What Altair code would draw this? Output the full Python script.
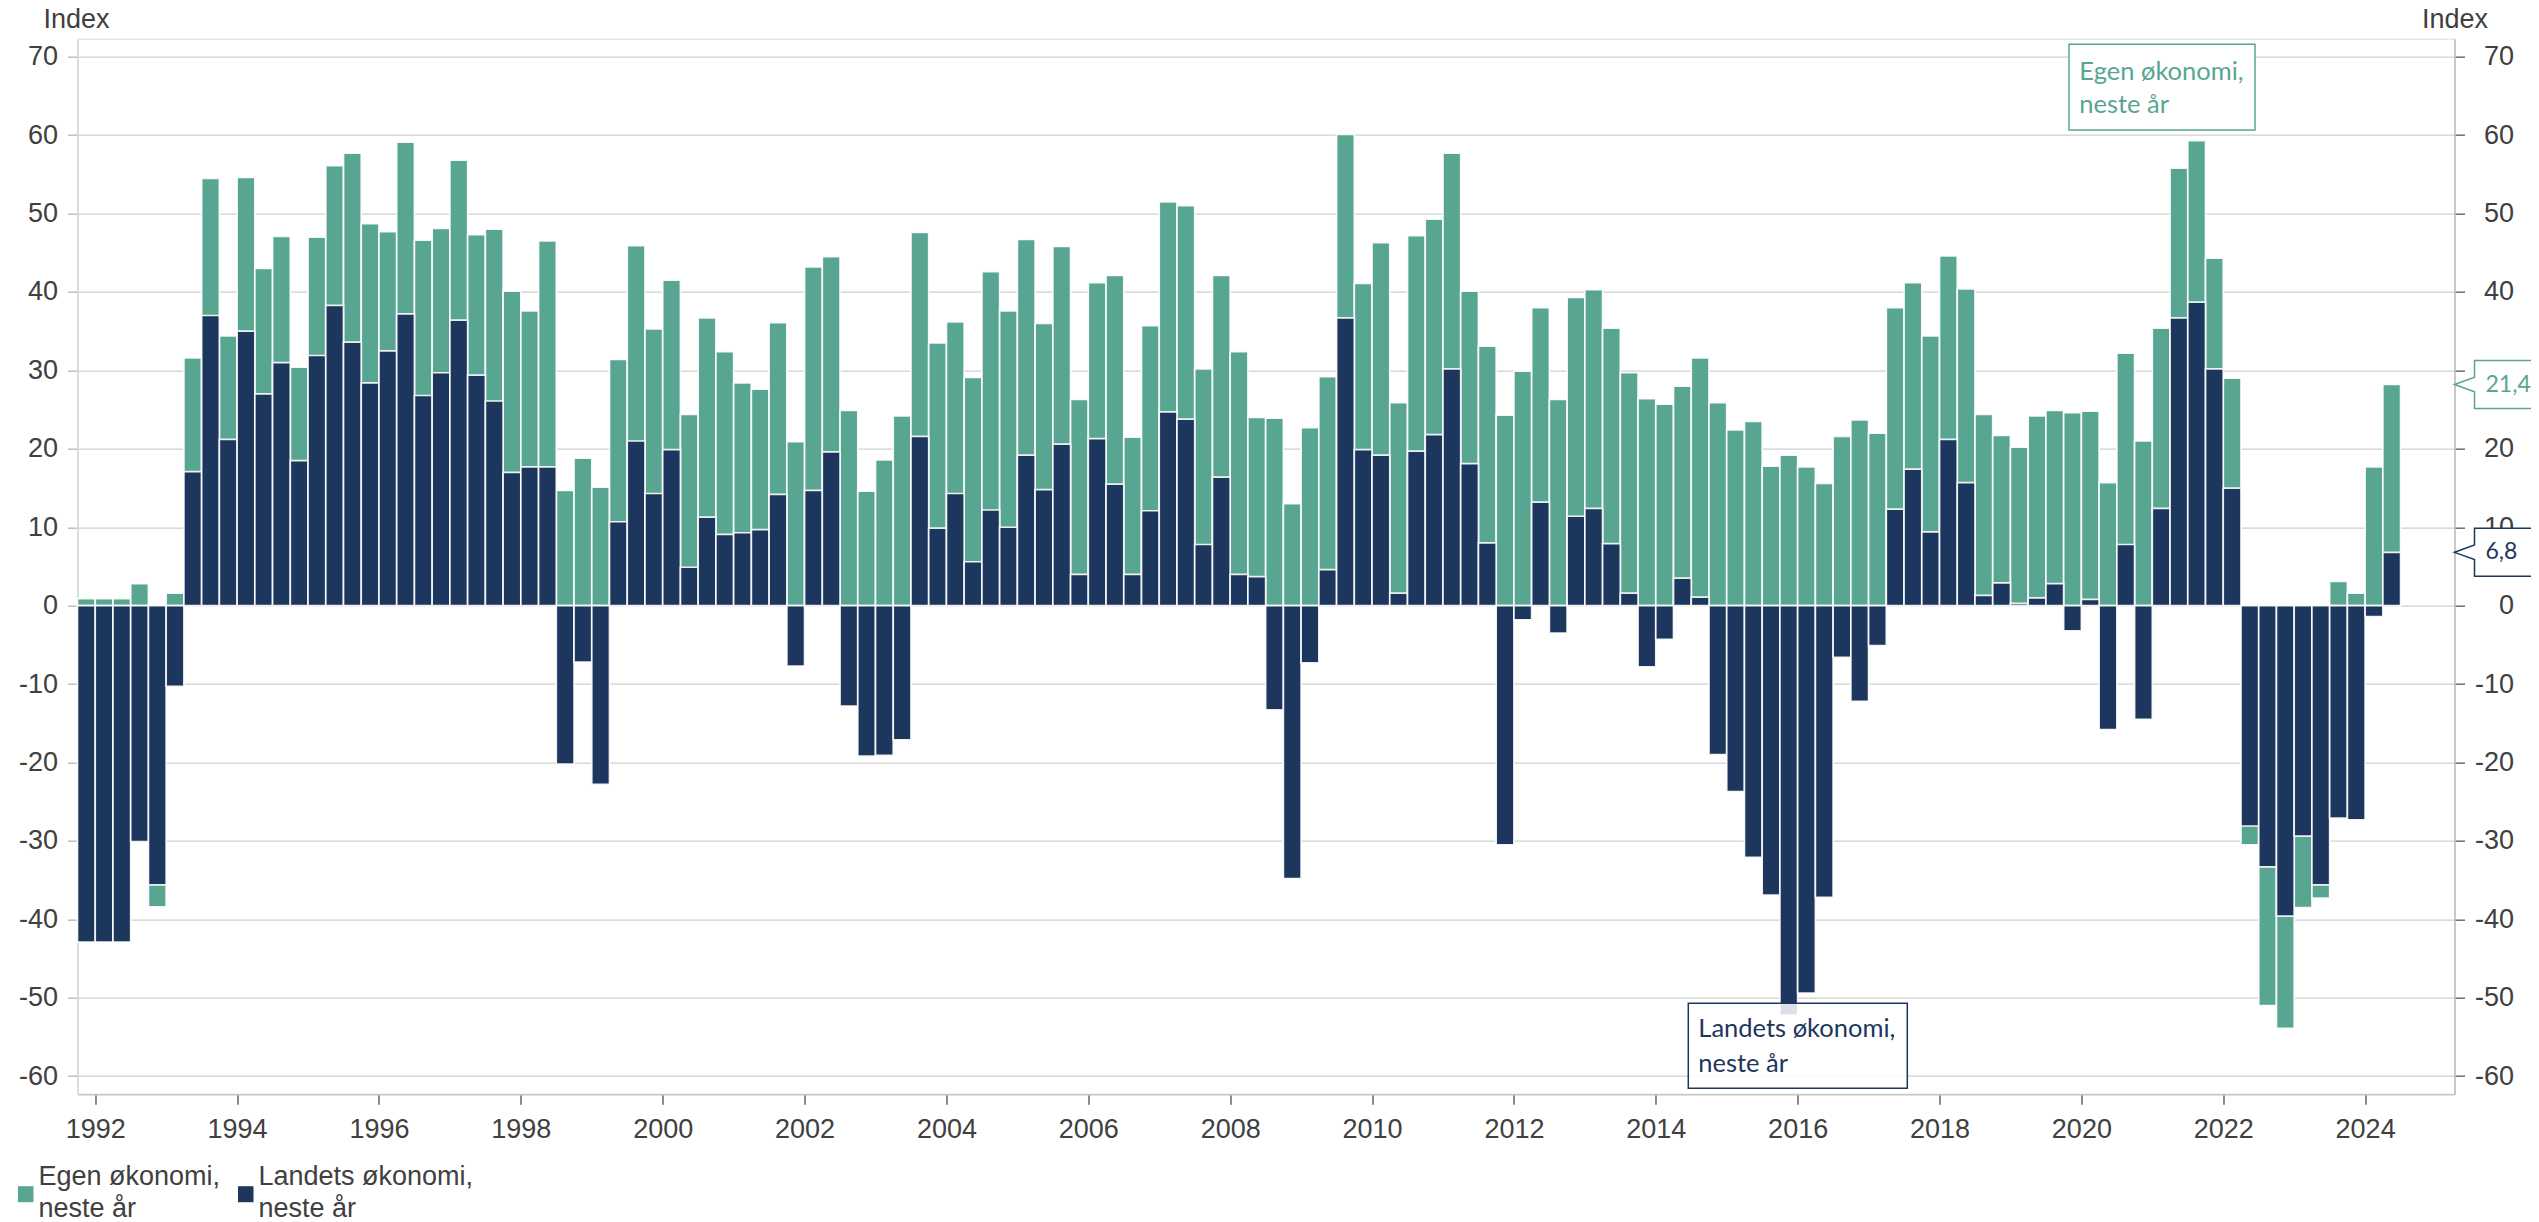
import altair as alt
import pandas as pd

# ---------------- data ----------------
first_year, first_quarter = 1991, 4
series = ["Egen økonomi, neste år", "Landets økonomi, neste år"]

egen = [
    0.9, 0.9, 0.9, 2.8, -38.4, 1.6, 31.6, 54.5, 34.4, 54.6,
    43.0, 47.1, 30.4, 47.0, 56.1, 57.7, 48.7, 47.7, 59.1, 46.6,
    48.1, 56.8, 47.3, 48.0, 40.1, 37.6, 46.5, 14.7, 18.8, 15.1,
    31.4, 45.9, 35.3, 41.5, 24.4, 36.7, 32.4, 28.4, 27.6, 36.1,
    20.9, 43.2, 44.5, 24.9, 14.6, 18.6, 24.2, 47.6, 33.5, 36.2,
    29.1, 42.6, 37.6, 46.7, 36.0, 45.8, 26.3, 41.2, 42.1, 21.5,
    35.7, 51.5, 51.0, 30.2, 42.1, 32.4, 24.0, 23.9, 13.0, 22.7,
    29.2, 60.1, 41.1, 46.3, 25.9, 47.2, 49.3, 57.7, 40.1, 33.1,
    24.3, 29.9, 38.0, 26.3, 39.3, 40.3, 35.4, 29.7, 26.4, 25.7,
    28.0, 31.6, 25.9, 22.4, 23.5, 17.8, 19.2, 17.7, 15.6, 21.6,
    23.7, 22.0, 38.0, 41.2, 34.4, 44.6, 40.4, 24.4, 21.7, 20.2,
    24.2, 24.9, 24.6, 24.8, 15.7, 32.2, 21.0, 35.4, 55.8, 59.3,
    44.3, 29.0, -30.5, -51.0, -53.9, -38.5, -37.3, 3.1, 1.6, 17.7,
    28.2,
]

landets = [
    -42.9, -42.9, -42.9, -30.1, -35.6, -10.3, 17.1, 37.0, 21.2, 35.0,
    27.0, 31.0, 18.5, 31.9, 38.3, 33.6, 28.4, 32.5, 37.2, 26.8,
    29.7, 36.4, 29.4, 26.1, 17.0, 17.7, 17.7, -20.2, -7.2, -22.8,
    10.7, 21.0, 14.3, 19.9, 4.9, 11.3, 9.1, 9.3, 9.7, 14.2,
    -7.7, 14.7, 19.6, -12.8, -19.2, -19.1, -17.1, 21.6, 9.9, 14.3,
    5.6, 12.2, 10.0, 19.2, 14.8, 20.6, 4.0, 21.3, 15.5, 4.0,
    12.1, 24.7, 23.8, 7.8, 16.4, 4.0, 3.7, -13.3, -34.8, -7.3,
    4.6, 36.7, 19.9, 19.2, 1.6, 19.7, 21.8, 30.2, 18.1, 8.0,
    -30.5, -1.8, 13.2, -3.5, 11.4, 12.4, 7.9, 1.6, -7.8, -4.3,
    3.5, 1.1, -19.0, -23.7, -32.1, -36.9, -52.2, -49.4, -37.2, -6.6,
    -12.2, -5.1, 12.3, 17.4, 9.4, 21.2, 15.7, 1.3, 2.9, 0.3,
    1.0, 2.8, -3.2, 0.8, -15.8, 7.8, -14.5, 12.4, 36.7, 38.7,
    30.2, 15.0, -28.1, -33.3, -39.6, -29.4, -35.6, -27.1, -27.3, -1.4,
    6.8,
]

x_ticks = list(range(1992, 2025, 2))
y_ticks = list(range(-60, 71, 10))

callout_values = [28.2, 6.8]
callout_labels = ["21,4", "6,8"]

box_labels = [["Egen økonomi,", "neste år"], ["Landets økonomi,", "neste år"]]
legend_lines = [["Egen økonomi,", "neste år"], ["Landets økonomi,", "neste år"]]

# ---------------- styling ----------------
GREEN = "#58a592"
NAVY = "#1c365d"
TXT = "#404040"
FONT = "Liberation Sans"
ANN_FONT = "Lato"

W, H = 2377, 1055.5
PAD_L, PAD_T, PAD_R = 69.5, 30.7, 76.5
TOTAL_H = 1214
x_domain = [1991.75, 2025.26]
y_domain = [-62.3, 72.3]
px_per_year = W / (x_domain[1] - x_domain[0])
px_per_unit = H / (y_domain[1] - y_domain[0])

xscale = alt.Scale(domain=x_domain, nice=False, zero=False)
yscale = alt.Scale(domain=y_domain, nice=False, zero=False)

# ---------------- table ----------------
rows = []
yr, q = first_year, first_quarter
for i in range(len(egen)):
    t = yr + (q - 1) / 4
    rows.append({"serie": series[0], "t": t, "t2": t + 0.25, "value": egen[i], "kvartal": f"{yr}K{q}"})
    rows.append({"serie": series[1], "t": t, "t2": t + 0.25, "value": landets[i], "kvartal": f"{yr}K{q}"})
    q += 1
    if q > 4:
        q = 1
        yr += 1
df = pd.DataFrame(rows)

color = alt.Color("serie:N", scale=alt.Scale(domain=series, range=[GREEN, NAVY]), legend=None)

x_axis = alt.Axis(
    values=x_ticks, format="d", labelFontSize=27, labelColor=TXT, labelFont=FONT,
    tickSize=10, tickColor="#6f6f6f", tickWidth=1.6, labelPadding=12,
    domainColor="#c8c8c8", domainWidth=1.8, grid=False, title=None,
    labelFlush=False, labelOverlap=False,
)
left_axis = alt.Axis(
    orient="left", values=y_ticks, labelExpr="'' + datum.value",
    labelFontSize=27, labelColor=TXT, labelFont=FONT, labelPadding=10,
    tickSize=10, tickColor="#bfbfbf", tickWidth=1.5, domainColor="#d9d9d9", domainWidth=1.6,
    grid=True, gridColor="#cfcfcf", gridWidth=1.3,
    title="Index", titleAngle=0, titleAlign="left", titleBaseline="alphabetic",
    titleX=-34.5, titleY=-11, titleFontSize=27, titleFontWeight="normal",
    titleColor=TXT, titleFont=FONT, labelOverlap=False,
)
right_axis = alt.Axis(
    orient="right", values=y_ticks, labelExpr="'' + datum.value",
    labelFontSize=27, labelColor=TXT, labelFont=FONT, labelAlign="right", labelPadding=49,
    tickSize=10, tickColor="#6f6f6f", tickWidth=1.5, domainColor="#bfbfbf", domainWidth=1.6,
    grid=False,
    title="Index", titleAngle=0, titleAlign="left", titleBaseline="alphabetic",
    titleX=-33, titleY=-11, titleFontSize=27, titleFontWeight="normal",
    titleColor=TXT, titleFont=FONT, labelOverlap=False,
)

base = alt.Chart(df)
green_bars = base.transform_filter(alt.datum.serie == series[0]).mark_bar(
    stroke="white", strokeWidth=1.7, strokeOpacity=0.9
).encode(
    x=alt.X("t:Q", scale=xscale, axis=x_axis),
    x2="t2:Q",
    y=alt.Y("value:Q", scale=yscale, axis=left_axis, stack=None),
    y2=alt.datum(0),
    color=color,
)
navy_bars = base.transform_filter(alt.datum.serie == series[1]).mark_bar(
    stroke="white", strokeWidth=1.7, strokeOpacity=0.9
).encode(
    x=alt.X("t:Q", scale=xscale, axis=x_axis),
    x2="t2:Q",
    y=alt.Y("value:Q", scale=yscale, axis=right_axis, stack=None),
    y2=alt.datum(0),
    color=color,
)

layers = [green_bars, navy_bars]

# ---------------- label boxes (pixel positions inside plot) ----------------
one = pd.DataFrame({"k": [0]})
layers.append(alt.Chart(one).mark_rect(fill="white", stroke=GREEN, strokeWidth=1.5).encode(
    x=alt.value(1991.5), x2=alt.value(2177.5), y=alt.value(5.6), y2=alt.value(91.3)))
layers.append(alt.Chart(one).mark_text(
    text=box_labels[0], align="left", baseline="alphabetic", lineHeight=33,
    fontSize=25.5, font=ANN_FONT, color=GREEN).encode(x=alt.value(2001.8), y=alt.value(41.5)))
layers.append(alt.Chart(one).mark_rect(fill="white", fillOpacity=0.85, stroke=NAVY, strokeWidth=1.5).encode(
    x=alt.value(1610.8), x2=alt.value(1829.8), y=alt.value(964.6), y2=alt.value(1049.6)))
layers.append(alt.Chart(one).mark_text(
    text=box_labels[1], align="left", baseline="alphabetic", lineHeight=34.4,
    fontSize=25.5, font=ANN_FONT, color=NAVY).encode(x=alt.value(1620.8), y=alt.value(998.6)))

# ---------------- callouts at the right axis ----------------
tip_x = x_domain[1]
left_x = tip_x + 20 / px_per_year
right_x = tip_x + 110 / px_per_year
half = 24 / px_per_unit
ph = 7.3 / px_per_unit
for v, lab, col in zip(callout_values, callout_labels, [GREEN, NAVY]):
    rect_df = pd.DataFrame({"x0": [left_x], "x1": [right_x], "yt": [v + half], "yb": [v - half]})
    layers.append(alt.Chart(rect_df).mark_rect(fill="white").encode(
        x=alt.X("x0:Q", scale=xscale, axis=x_axis), x2="x1:Q",
        y=alt.Y("yt:Q", scale=yscale, axis=None), y2="yb:Q"))
    path = pd.DataFrame({
        "x": [right_x, left_x, left_x, tip_x, left_x, left_x, right_x],
        "y": [v + half, v + half, v + ph, v, v - ph, v - half, v - half],
        "o": list(range(7)),
    })
    layers.append(alt.Chart(path).mark_line(color=col, strokeWidth=1.5).encode(
        x=alt.X("x:Q", scale=xscale, axis=x_axis),
        y=alt.Y("y:Q", scale=yscale, axis=None),
        order="o:Q"))
    tdf = pd.DataFrame({"v": [v], "lab": [lab]})
    layers.append(alt.Chart(tdf).mark_text(
        align="left", baseline="middle", fontSize=23, font=ANN_FONT, color=col).encode(
        x=alt.value(2408), y=alt.Y("v:Q", scale=yscale, axis=None), text="lab:N"))

# ---------------- legend (below the plot, bottom left) ----------------
legend_x = [-59.5, 160.5]
for name, lines, lx in zip(series, legend_lines, legend_x):
    ldf = pd.DataFrame({"serie": [name]})
    layers.append(alt.Chart(ldf).mark_rect().encode(
        x=alt.value(lx), x2=alt.value(lx + 15.5), y=alt.value(1147.5), y2=alt.value(1163.5),
        color=color))
    layers.append(alt.Chart(ldf).mark_text(
        text=lines, align="left", baseline="alphabetic", lineHeight=32,
        fontSize=27, font=FONT, color=TXT).encode(x=alt.value(lx + 20.5), y=alt.value(1146.5)))

chart = alt.layer(*layers).resolve_scale(y="independent").properties(
    width=W, height=H,
    padding={"left": PAD_L, "top": PAD_T, "right": PAD_R, "bottom": TOTAL_H - PAD_T - H},
    autosize=alt.AutoSizeParams(type="none"),
).configure_view(stroke=None).configure(font=FONT)

chart.save("out.html", embed_options={"renderer": "svg", "actions": False})
